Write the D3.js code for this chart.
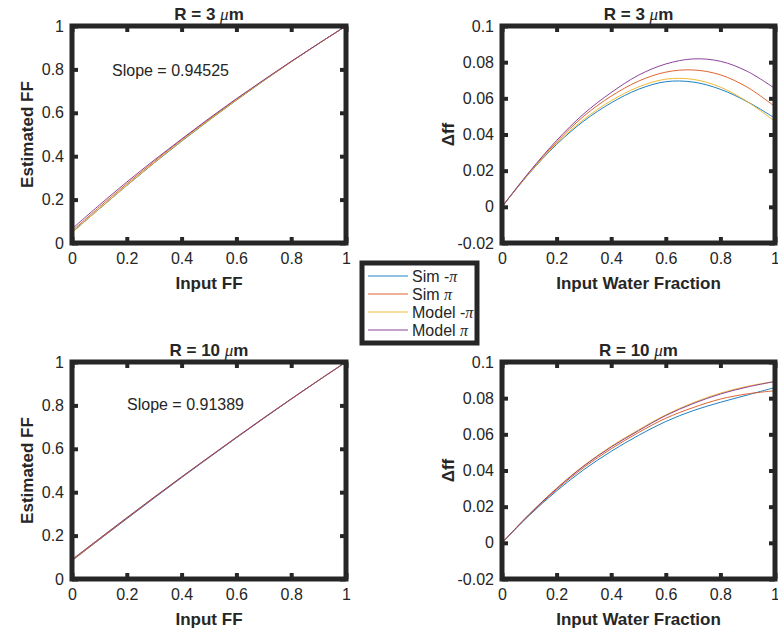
<!DOCTYPE html>
<html>
<head>
<meta charset="utf-8">
<script src="https://cdn.jsdelivr.net/npm/d3@7"></script>
<style>
  body { margin: 0; background: #fff; }
  text { font-family: "Liberation Sans", Arial, Helvetica, sans-serif; fill: #262626; }
</style>
</head>
<body>
<div id="fig"></div>
<script>
// input grid (FF or water fraction)
var inputX = [0, 0.1, 0.2, 0.3, 0.4, 0.5, 0.6, 0.7, 0.8, 0.9, 1];

var legendNames = ["Sim -", "Sim ", "Model -", "Model "];
var colors = ["#0072BD", "#D95319", "#EDB120", "#7E2F8E"];

// R = 3 um, estimated FF vs input FF
var estR3SimNeg   = [0.049, 0.158, 0.265, 0.369, 0.469, 0.565, 0.658, 0.748, 0.835, 0.919, 1.0];
var estR3SimPos   = [0.055, 0.166, 0.273, 0.376, 0.476, 0.570, 0.662, 0.750, 0.836, 0.919, 1.0];
var estR3ModelNeg = [0.047, 0.158, 0.266, 0.370, 0.471, 0.566, 0.659, 0.749, 0.835, 0.919, 1.0];
var estR3ModelPos = [0.065, 0.175, 0.281, 0.382, 0.479, 0.574, 0.665, 0.752, 0.837, 0.919, 1.0];

// R = 3 um, delta ff vs input water fraction
var dR3SimNeg   = [0, 0.0185, 0.0345, 0.0475, 0.0575, 0.0650, 0.0692, 0.0690, 0.0650, 0.0580, 0.0490];
var dR3SimPos   = [0, 0.0190, 0.0358, 0.0502, 0.0612, 0.0695, 0.0745, 0.0757, 0.0730, 0.0660, 0.0554];
var dR3ModelNeg = [0, 0.0187, 0.0350, 0.0484, 0.0587, 0.0663, 0.0706, 0.0705, 0.0662, 0.0580, 0.0472];
var dR3ModelPos = [0, 0.0193, 0.0367, 0.0515, 0.0632, 0.0728, 0.0790, 0.0818, 0.0805, 0.0748, 0.0654];

// R = 10 um, estimated FF vs input FF
var estR10SimNeg   = [0.0859, 0.1818, 0.2777, 0.3731, 0.4671, 0.5594, 0.6506, 0.7405, 0.8287, 0.9152, 1.0];
var estR10SimPos   = [0.0841, 0.1824, 0.2795, 0.3748, 0.4689, 0.5610, 0.6520, 0.7417, 0.8295, 0.9155, 1.0];
var estR10ModelNeg = [0.0893, 0.1866, 0.2828, 0.3775, 0.4708, 0.5625, 0.6534, 0.7428, 0.8302, 0.9159, 1.0];
var estR10ModelPos = [0.0892, 0.1862, 0.2823, 0.3770, 0.4704, 0.5620, 0.6530, 0.7425, 0.8300, 0.9158, 1.0];

// R = 10 um, delta ff vs input water fraction
var dR10SimNeg   = [0, 0.0152, 0.0287, 0.0405, 0.0506, 0.0594, 0.0671, 0.0731, 0.0777, 0.0818, 0.0859];
var dR10SimPos   = [0, 0.0155, 0.0295, 0.0417, 0.0520, 0.0610, 0.0689, 0.0748, 0.0795, 0.0824, 0.0841];
var dR10ModelNeg = [0, 0.0159, 0.0302, 0.0428, 0.0534, 0.0625, 0.0708, 0.0775, 0.0828, 0.0866, 0.0893];
var dR10ModelPos = [0, 0.0158, 0.0300, 0.0425, 0.0530, 0.0620, 0.0704, 0.0770, 0.0823, 0.0862, 0.0892];

var xTicks = [0, 0.2, 0.4, 0.6, 0.8, 1];
var ffTicks = [0, 0.2, 0.4, 0.6, 0.8, 1];
var deltaTicks = [-0.02, 0, 0.02, 0.04, 0.06, 0.08, 0.1];

var width = 778, height = 631;
var svg = d3.select("#fig").append("svg")
    .attr("width", width)
    .attr("height", height);

var ink = "#262626";

// matlab style labels: plain hyphen, no trailing zeros
function fmt(d) { return String(+d.toFixed(2)); }

function panel(opts) {
  var x = d3.scaleLinear().domain([0, 1]).range([opts.x0, opts.x1]);
  var y = d3.scaleLinear().domain(opts.yDomain).range([opts.y1, opts.y0]);
  var g = svg.append("g");

  var line = d3.line()
      .curve(d3.curveCatmullRom.alpha(0.5))
      .x(function(d, i) { return x(inputX[i]); })
      .y(function(d) { return y(d); });

  g.selectAll("path.series")
    .data(opts.series)
    .enter().append("path")
      .attr("class", "series")
      .attr("d", function(d) { return line(d); })
      .attr("fill", "none")
      .attr("stroke", function(d, i) { return colors[i]; })
      .attr("stroke-width", 0.9);

  // axes with inward ticks, box style
  var axB = g.append("g").attr("transform", "translate(0," + opts.y1 + ")")
      .call(d3.axisBottom(x).tickValues(xTicks).tickSizeInner(-6).tickSizeOuter(0).tickPadding(10).tickFormat(fmt));
  var axT = g.append("g").attr("transform", "translate(0," + opts.y0 + ")")
      .call(d3.axisTop(x).tickValues(xTicks).tickSizeInner(-6).tickSizeOuter(0).tickFormat(""));
  var axL = g.append("g").attr("transform", "translate(" + opts.x0 + ",0)")
      .call(d3.axisLeft(y).tickValues(opts.yTicks).tickSizeInner(-6).tickSizeOuter(0).tickPadding(8).tickFormat(fmt));
  var axR = g.append("g").attr("transform", "translate(" + opts.x1 + ",0)")
      .call(d3.axisRight(y).tickValues(opts.yTicks).tickSizeInner(-6).tickSizeOuter(0).tickFormat(""));

  [axB, axT, axL, axR].forEach(function(a) {
    a.select(".domain").remove();
    a.selectAll(".tick line").attr("stroke", ink).attr("stroke-width", 4);
    a.selectAll(".tick text")
      .style("font-family", "'Liberation Sans', Arial, sans-serif")
      .style("font-size", "16px")
      .attr("fill", ink);
  });

  g.append("rect")
    .attr("x", opts.x0)
    .attr("y", opts.y0)
    .attr("width", opts.x1 - opts.x0)
    .attr("height", opts.y1 - opts.y0)
    .attr("fill", "none")
    .attr("stroke", ink)
    .attr("stroke-width", 5);

  // title
  var t = g.append("text")
    .attr("x", (opts.x0 + opts.x1) / 2)
    .attr("y", opts.y0 - 6)
    .attr("text-anchor", "middle")
    .style("font-size", "17px")
    .style("font-weight", "bold");
  t.append("tspan").text("R = " + opts.r + " ");
  t.append("tspan").text("\u03bc").style("font-style", "italic").style("font-weight", "normal")
    .style("font-family", "'Liberation Serif', 'DejaVu Serif', serif");
  t.append("tspan").text("m");

  g.append("text")
    .attr("x", (opts.x0 + opts.x1) / 2)
    .attr("y", opts.y1 + 46)
    .attr("text-anchor", "middle")
    .style("font-size", "17px")
    .style("font-weight", "bold")
    .text(opts.xLabel);

  g.append("text")
    .attr("transform", "translate(" + opts.yLabelX + "," + (opts.y0 + opts.y1) / 2 + ") rotate(-90)")
    .attr("text-anchor", "middle")
    .style("font-size", "17px")
    .style("font-weight", "bold")
    .text(opts.yLabel);

  if (opts.note) {
    g.append("text")
      .attr("x", opts.note.x)
      .attr("y", opts.note.y)
      .style("font-size", "16px")
      .text(opts.note.text);
  }
}

panel({ x0: 72, x1: 346, y0: 26, y1: 243, yDomain: [0, 1], yTicks: ffTicks, r: 3,
  series: [estR3SimNeg, estR3SimPos, estR3ModelNeg, estR3ModelPos],
  xLabel: "Input FF", yLabel: "Estimated FF", yLabelX: 33,
  note: { x: 112, y: 76, text: "Slope = 0.94525" } });

panel({ x0: 502, x1: 775, y0: 26, y1: 243, yDomain: [-0.02, 0.1], yTicks: deltaTicks, r: 3,
  series: [dR3SimNeg, dR3SimPos, dR3ModelNeg, dR3ModelPos],
  xLabel: "Input Water Fraction", yLabel: "\u0394ff", yLabelX: 454 });

panel({ x0: 72, x1: 346, y0: 362, y1: 579, yDomain: [0, 1], yTicks: ffTicks, r: 10,
  series: [estR10SimNeg, estR10SimPos, estR10ModelNeg, estR10ModelPos],
  xLabel: "Input FF", yLabel: "Estimated FF", yLabelX: 33,
  note: { x: 127, y: 410, text: "Slope = 0.91389" } });

panel({ x0: 502, x1: 775, y0: 362, y1: 579, yDomain: [-0.02, 0.1], yTicks: deltaTicks, r: 10,
  series: [dR10SimNeg, dR10SimPos, dR10ModelNeg, dR10ModelPos],
  xLabel: "Input Water Fraction", yLabel: "\u0394ff", yLabelX: 454 });

// legend
var leg = svg.append("g");
leg.append("rect")
  .attr("x", 362).attr("y", 263)
  .attr("width", 115).attr("height", 80)
  .attr("fill", "#fff")
  .attr("stroke", ink)
  .attr("stroke-width", 5);

var rows = leg.selectAll("g.row")
  .data(legendNames)
  .enter().append("g")
    .attr("class", "row")
    .attr("transform", function(d, i) { return "translate(368," + (276 + i * 18) + ")"; });

rows.append("line")
  .attr("x1", 0).attr("x2", 40)
  .attr("stroke", function(d, i) { return colors[i]; })
  .attr("stroke-width", 0.9);

var lt = rows.append("text")
  .attr("x", 44)
  .attr("dy", "0.35em")
  .style("font-size", "16px");
lt.append("tspan").text(function(d) { return d; });
lt.append("tspan").text("\u03c0")
  .style("font-style", "italic")
  .style("font-family", "'Liberation Serif', 'DejaVu Serif', serif");
</script>
</body>
</html>
